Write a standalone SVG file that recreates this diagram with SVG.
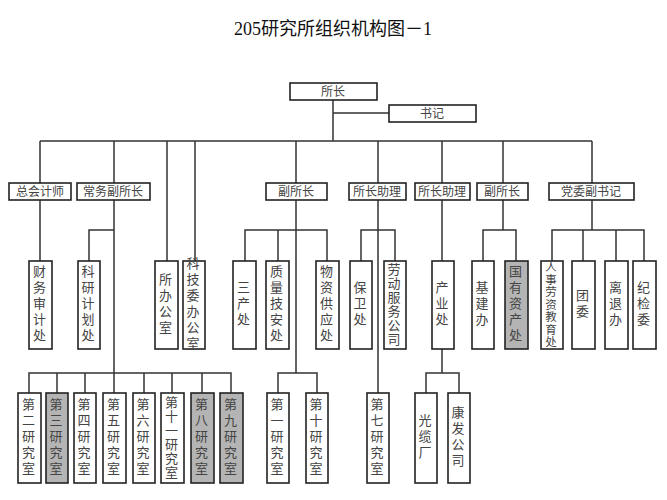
<svg xmlns="http://www.w3.org/2000/svg" width="667" height="500" viewBox="0 0 667 500">
<style>
.b{fill:#fff;stroke:#222;stroke-width:1.6}
.g{fill:#b4b4b4;stroke:#222;stroke-width:1.6}
.t{font-family:"Noto Sans CJK SC","Noto Sans CJK JP",sans-serif;font-size:12px;fill:#444;text-anchor:middle}
.v{font-family:"Noto Sans CJK SC","Noto Sans CJK JP",sans-serif;font-size:13px;fill:#444;writing-mode:vertical-rl;text-anchor:middle;letter-spacing:3px;transform:translate(-1px,0px)}
.c{fill:none;stroke:#333;stroke-width:1.5}
</style>
<rect width="667" height="500" fill="#fff"/>
<text x="333" y="35" style="font-family:'Liberation Serif','Noto Sans CJK SC',serif;font-size:18px;fill:#111;text-anchor:middle">205研究所组织机构图－1</text>
<g id="connectors" class="c">
<path d="M333 100V141M333 113H389M40 141H592"/>
<path d="M40 141V261M114 141V373M167 141V261M195 141V261M296 141V373M378 141V393M442 141V373M503 141V230M592 141V230"/>
<path d="M114 230H89V261M245 261V230H327V261M278 230V261M361 261V230H395V261M483 261V230H516V261M552 261V230H644V261M583 230V261M616 230V261"/>
<path d="M29 393V373H231V393M57 373V393M85 373V393M114 373V393M144 373V393M172 373V393M202 373V393"/>
<path d="M278 393V373H317V393M426 393V373H459V393"/>
</g>
<g id="n-suozhang"><rect class="b" x="290" y="83" width="87" height="17"/><text class="t" x="333" y="96">所长</text></g>
<g id="n-shuji"><rect class="b" x="389" y="105" width="87" height="17"/><text class="t" x="432" y="118">书记</text></g>
<g id="n-zkjs"><rect class="b" x="9" y="183" width="62" height="17"/><text class="t" x="40" y="196">总会计师</text></g>
<g id="n-cwfsz"><rect class="b" x="77" y="183" width="73" height="17"/><text class="t" x="113" y="196">常务副所长</text></g>
<g id="n-fsz1"><rect class="b" x="266" y="183" width="61" height="17"/><text class="t" x="296" y="196">副所长</text></g>
<g id="n-szzl1"><rect class="b" x="349" y="183" width="57" height="17"/><text class="t" x="377" y="196">所长助理</text></g>
<g id="n-szzl2"><rect class="b" x="415" y="183" width="55" height="17"/><text class="t" x="442" y="196">所长助理</text></g>
<g id="n-fsz2"><rect class="b" x="477" y="183" width="51" height="17"/><text class="t" x="502" y="196">副所长</text></g>
<g id="n-dwfsj"><rect class="b" x="549" y="183" width="85" height="17"/><text class="t" x="591" y="196">党委副书记</text></g>
<g id="n-cwsj"><rect class="b" x="29" y="261" width="23" height="88"/><text class="v" x="40.5" y="305">财务审计处</text></g>
<g id="n-kyjh"><rect class="b" x="78" y="261" width="22" height="88"/><text class="v" x="89" y="305">科研计划处</text></g>
<g id="n-sbgs"><rect class="b" x="155" y="261" width="23" height="88"/><text class="v" x="166.5" y="305">所办公室</text></g>
<g id="n-kjwbgs"><rect class="b" x="183" y="261" width="22" height="88"/><text class="v" x="194" y="305">科技委办公室</text></g>
<g id="n-sanchan"><rect class="b" x="233" y="261" width="23" height="88"/><text class="v" x="244.5" y="305">三产处</text></g>
<g id="n-zlja"><rect class="b" x="266" y="261" width="23" height="88"/><text class="v" x="277.5" y="305">质量技安处</text></g>
<g id="n-wzgy"><rect class="b" x="316" y="261" width="23" height="88"/><text class="v" x="327.5" y="305">物资供应处</text></g>
<g id="n-baowei"><rect class="b" x="350" y="261" width="22" height="88"/><text class="v" x="361" y="305">保卫处</text></g>
<g id="n-ldfw"><rect class="b" x="384" y="261" width="22" height="88"/><text class="v" x="395" y="305" style="letter-spacing:1px">劳动服务公司</text></g>
<g id="n-chanye"><rect class="b" x="432" y="261" width="22" height="88"/><text class="v" x="443" y="305">产业处</text></g>
<g id="n-jijian"><rect class="b" x="472" y="261" width="22" height="88"/><text class="v" x="483" y="305">基建办</text></g>
<g id="n-gyzc"><rect class="g" x="505" y="261" width="23" height="88"/><text class="v" x="516.5" y="305">国有资产处</text></g>
<g id="n-rsls"><rect class="b" x="541" y="261" width="22" height="88"/><text class="v" x="552" y="305" style="letter-spacing:1px;font-size:11.5px">人事劳资教育处</text></g>
<g id="n-tuanwei"><rect class="b" x="572" y="261" width="23" height="88"/><text class="v" x="583.5" y="305">团委</text></g>
<g id="n-lituiban"><rect class="b" x="605" y="261" width="23" height="88"/><text class="v" x="616.5" y="305">离退办</text></g>
<g id="n-jijianwei"><rect class="b" x="633" y="261" width="23" height="88"/><text class="v" x="644.5" y="305">纪检委</text></g>
<g id="n-s2"><rect class="b" x="18" y="393" width="23" height="90"/><text class="v" x="29.5" y="438">第二研究室</text></g>
<g id="n-s3"><rect class="g" x="46" y="393" width="22" height="90"/><text class="v" x="57" y="438">第三研究室</text></g>
<g id="n-s4"><rect class="b" x="74" y="393" width="22" height="90"/><text class="v" x="85" y="438">第四研究室</text></g>
<g id="n-s5"><rect class="b" x="103" y="393" width="23" height="90"/><text class="v" x="114.5" y="438">第五研究室</text></g>
<g id="n-s6"><rect class="b" x="133" y="393" width="22" height="90"/><text class="v" x="144" y="438">第六研究室</text></g>
<g id="n-s11"><rect class="b" x="161" y="393" width="23" height="90"/><text class="v" x="172.5" y="438" style="letter-spacing:1px">第十一研究室</text></g>
<g id="n-s8"><rect class="g" x="191" y="393" width="23" height="90"/><text class="v" x="202.5" y="438">第八研究室</text></g>
<g id="n-s9"><rect class="g" x="220" y="393" width="23" height="90"/><text class="v" x="231.5" y="438">第九研究室</text></g>
<g id="n-s1"><rect class="b" x="267" y="393" width="22" height="90"/><text class="v" x="278" y="438">第一研究室</text></g>
<g id="n-s10"><rect class="b" x="306" y="393" width="22" height="90"/><text class="v" x="317" y="438">第十研究室</text></g>
<g id="n-s7"><rect class="b" x="367" y="393" width="22" height="90"/><text class="v" x="378" y="438">第七研究室</text></g>
<g id="n-glc"><rect class="b" x="415" y="393" width="22" height="90"/><text class="v" x="426" y="438">光缆厂</text></g>
<g id="n-kfgs"><rect class="b" x="448" y="393" width="22" height="90"/><text class="v" x="459" y="438">康发公司</text></g>
</svg>
